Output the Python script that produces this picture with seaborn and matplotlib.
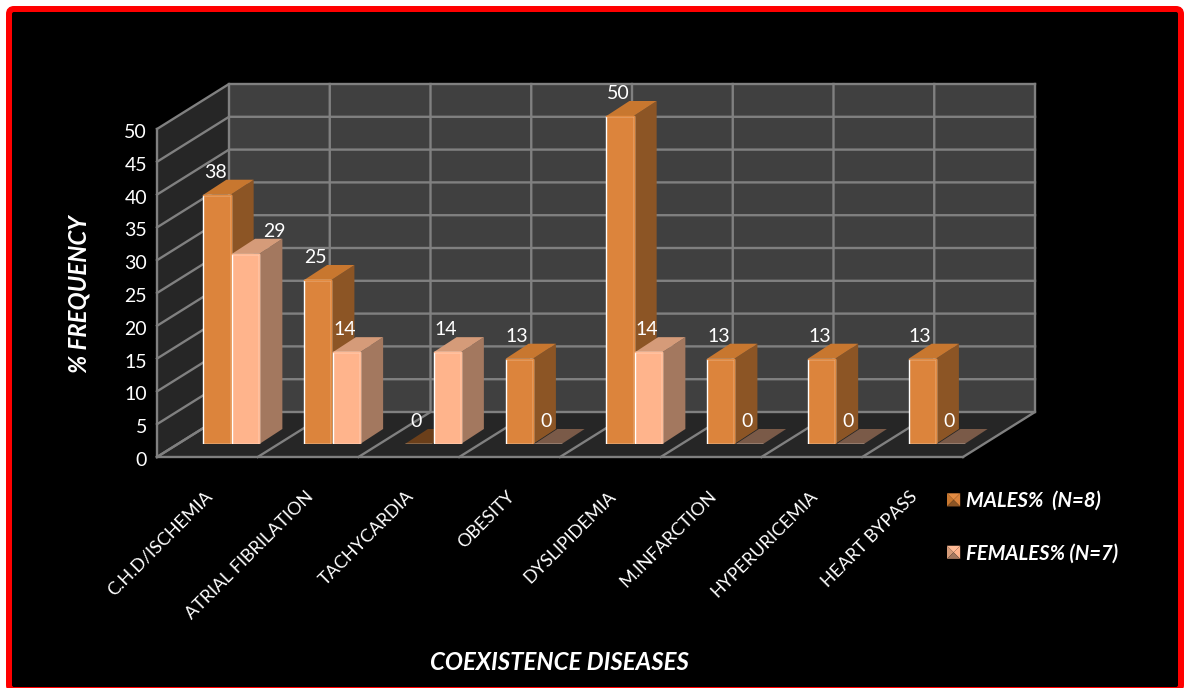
import matplotlib
matplotlib.use("Agg")
import matplotlib.pyplot as plt
import pandas as pd
import seaborn as sns
from matplotlib.legend_handler import HandlerBase
from matplotlib.patches import FancyBboxPatch, Patch, Polygon
from matplotlib.transforms import IdentityTransform, ScaledTranslation

diseases = ["C.H.D/ISCHEMIA", "ATRIAL FIBRILATION", "TACHYCARDIA", "OBESITY",
            "DYSLIPIDEMIA", "M.INFARCTION", "HYPERURICEMIA", "HEART BYPASS"]
males = [38, 25, 0, 13, 50, 13, 13, 13]
females = [29, 14, 14, 0, 14, 0, 0, 0]
male_label = "MALES%  (N=8)"
female_label = "FEMALES% (N=7)"
y_ticks = list(range(0, 55, 5))

W, H = 1184, 688
DPI = 100
FONT = "Lato"

MALE = dict(front="#DC843C", side="#8C5525", top="#C8772F", edge="#E48C42", flat="#6B3F1A")
FEMALE = dict(front="#FFB48C", side="#A3785F", top="#D59B79", edge="#FFBB96", flat="#7A5A48")

sns.set_theme(style="white")
plt.rcParams["font.family"] = [FONT, "DejaVu Sans"]

fig = plt.figure(figsize=(W / DPI, H / DPI), dpi=DPI, facecolor="white")

# Rounded red frame around a black panel, specified in device pixels
fig.add_artist(FancyBboxPatch((9, -2), 1172, 681, boxstyle="round,pad=0,rounding_size=5",
                              transform=IdentityTransform(), facecolor="black",
                              edgecolor="#FF0000", linewidth=6 * 72 / DPI, zorder=-1))

# The axes covers the plane the bar fronts sit in
left, right, bottom, top = 181, 987, 444, 116
ax = fig.add_axes([left / W, 1 - bottom / H, (right - left) / W, (bottom - top) / H])
ax.patch.set_alpha(0)

table = pd.DataFrame({
    "disease": diseases * 2,
    "pct": males + females,
    "sex": [male_label] * len(males) + [female_label] * len(females),
})
sns.barplot(data=table, x="disease", y="pct", hue="sex", order=diseases,
            hue_order=[male_label, female_label], palette=[MALE["front"], FEMALE["front"]],
            width=0.57, gap=0.05, saturation=1, legend=False, ax=ax)
ax.set_xlim(-0.5, 7.5)
ax.set_ylim(0, 50)

px_x = (right - left) / 8
px_y = (bottom - top) / 50


def to_data(dx, dy):
    """Pixel offset (right, up) expressed in data units."""
    return dx / px_x, dy / px_y


# Chart box: left wall, back wall and floor
front_x, front_y = to_data(-24, -13)
back_x, back_y = to_data(48, 32)
x_lo, x_hi = -0.5, 7.5
v_top = y_ticks[-1]
grid = dict(color="#808080", lw=1.7, clip_on=False, zorder=3, solid_capstyle="projecting")


def wall(points, color):
    ax.add_patch(Polygon(points, closed=True, facecolor=color, edgecolor="none",
                         clip_on=False, zorder=1))


wall([(x_lo + back_x, back_y), (x_hi + back_x, back_y),
      (x_hi + back_x, v_top + back_y), (x_lo + back_x, v_top + back_y)], "#404040")
wall([(x_lo + front_x, front_y), (x_lo + back_x, back_y),
      (x_lo + back_x, v_top + back_y), (x_lo + front_x, v_top + front_y)], "#262626")
wall([(x_lo + front_x, front_y), (x_hi + front_x, front_y),
      (x_hi + back_x, back_y), (x_lo + back_x, back_y)], "#262626")

for v in y_ticks:
    ax.plot([x_lo + front_x, x_lo + back_x, x_hi + back_x],
            [v + front_y, v + back_y, v + back_y], **grid)
for i in range(len(diseases) + 1):
    x = x_lo + i
    ax.plot([x + front_x, x + back_x, x + back_x],
            [front_y, back_y, v_top + back_y], **grid)
ax.plot([x_lo + front_x, x_lo + front_x], [front_y, v_top + front_y], **grid)
ax.plot([x_lo + front_x, x_hi + front_x], [front_y, front_y], **grid)

# Extrude each bar backwards with a side and a top face
depth_x, depth_y = to_data(23, 15)
for s, (bars, shade) in enumerate(zip(ax.containers, (MALE, FEMALE))):
    for i, bar in enumerate(bars):
        x0, x1 = bar.get_x(), bar.get_x() + bar.get_width()
        h = bar.get_height()
        z = 5 + 2 * i + s * 0.5
        if h > 0:
            ax.add_patch(Polygon([(x1, 0), (x1 + depth_x, depth_y),
                                  (x1 + depth_x, h + depth_y), (x1, h)],
                                 facecolor=shade["side"], edgecolor="none",
                                 clip_on=False, zorder=z))
        cap = shade["top"] if h > 0 else shade["flat"]
        ax.add_patch(Polygon([(x0, h), (x0 + depth_x, h + depth_y),
                              (x1 + depth_x, h + depth_y), (x1, h)],
                             facecolor=cap, edgecolor="none", clip_on=False, zorder=z))
        bar.set_zorder(z + 0.1)
        if h > 0:
            ax.plot([x1, x1], [0, h], color=shade["edge"], lw=1.0, zorder=z + 0.2)
            ax.plot([x0, x1], [h, h], color=shade["edge"], lw=1.0, zorder=z + 0.2,
                    clip_on=False)

        # Value label; the first female label sits clear of the taller male bar
        shift = 29 if (s == 1 and i == 0) else -2
        ax.annotate(f"{h:.0f}", xy=((x0 + x1) / 2, h), xytext=(shift * 72 / DPI, 16.2),
                    textcoords="offset points", ha="center", va="center",
                    color="white", fontsize=14, zorder=100, annotation_clip=False)

# Axis labels
for side in ax.spines.values():
    side.set_visible(False)
ax.set_xlabel("")
ax.set_ylabel("")
ax.set_yticks(y_ticks)
ax.tick_params(axis="y", length=0, pad=34 * 72 / DPI, labelsize=14, labelcolor="white")
for lab in ax.get_yticklabels():
    lab.set_transform(lab.get_transform() + ScaledTranslation(0, -15 / DPI, fig.dpi_scale_trans))
ax.set_xticks(range(len(diseases)))
ax.set_xticklabels(diseases, rotation=45, ha="right", va="top", rotation_mode="anchor",
                   fontsize=13, color="white")
ax.tick_params(axis="x", length=0, pad=0)
for lab in ax.get_xticklabels():
    lab.set_transform(lab.get_transform() + ScaledTranslation(-27 / DPI, -44 / DPI, fig.dpi_scale_trans))

fig.text(79 / W, 1 - 294 / H, "% FREQUENCY", rotation=90, ha="center", va="center",
         color="white", fontsize=17.3, fontweight="bold", fontstyle="italic")
fig.text(559 / W, 1 - 662 / H, "COEXISTENCE DISEASES", ha="center", va="center",
         color="white", fontsize=17.3, fontweight="bold", fontstyle="italic")


# Legend keys are small bevelled squares
class BevelKey(HandlerBase):
    def __init__(self, shade):
        super().__init__()
        self.shade = shade

    def create_artists(self, legend, orig_handle, xdescent, ydescent, width, height,
                       fontsize, trans):
        s = min(width, height)
        x0, y0 = (width - s) / 2 - xdescent, (height - s) / 2 - ydescent
        x1, y1 = x0 + s, y0 + s
        cx, cy = (x0 + x1) / 2, (y0 + y1) / 2
        sh = self.shade
        faces = [([(x0, y0), (x0, y1), (cx, cy)], sh["top"]),
                 ([(x0, y1), (x1, y1), (cx, cy)], sh["edge"]),
                 ([(x1, y1), (x1, y0), (cx, cy)], sh["front"]),
                 ([(x1, y0), (x0, y0), (cx, cy)], sh["side"])]
        return [Polygon(p, closed=True, facecolor=c, edgecolor="none", transform=trans)
                for p, c in faces]


male_key, female_key = Patch(), Patch()
leg = fig.legend([male_key, female_key], [male_label, female_label],
                 handler_map={male_key: BevelKey(MALE), female_key: BevelKey(FEMALE)},
                 loc="upper left", bbox_to_anchor=(947 / W, 1 - 491 / H), frameon=False,
                 handlelength=0.65, handleheight=0.65, handletextpad=0.3, labelspacing=1.6,
                 borderpad=0, borderaxespad=0,
                 prop=dict(family=FONT, size=14.6, weight="bold", style="italic"))
for t in leg.get_texts():
    t.set_color("white")

fig.savefig("out.png", dpi=DPI, facecolor="white")
